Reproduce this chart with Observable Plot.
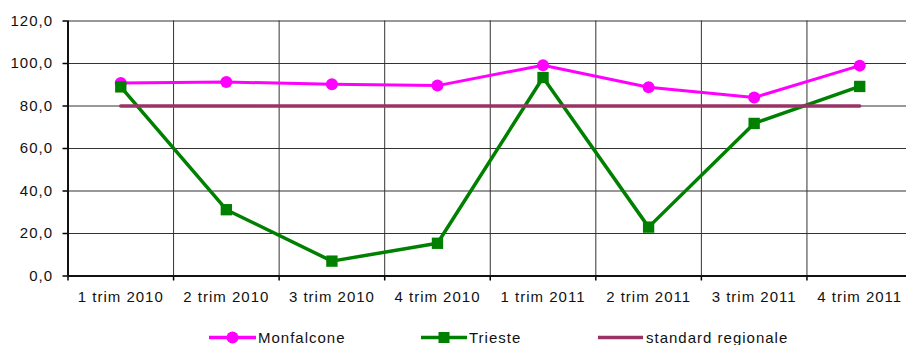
<!DOCTYPE html>
<html>
<head>
<meta charset="utf-8">
<script src="https://cdn.jsdelivr.net/npm/d3@7"></script>
<script src="https://cdn.jsdelivr.net/npm/@observablehq/plot@0.6"></script>
<style>
  html, body { margin: 0; padding: 0; background: #fff; overflow: hidden; }
  #wrap { position: relative; width: 906px; height: 345px; overflow: hidden; }
  #chart { width: 912px; }
  #chart svg { max-width: none !important; }
  #chart svg text, #legend text { letter-spacing: 1px; }
  #legend { position: absolute; left: 0; top: 310px; }
</style>
</head>
<body>
<div id="wrap">
  <div id="chart"></div>
  <div id="legend"></div>
</div>
<script>
const categories = ["1 trim 2010", "2 trim 2010", "3 trim 2010", "4 trim 2010",
                    "1 trim 2011", "2 trim 2011", "3 trim 2011", "4 trim 2011"];
const monfalcone = [90.8, 91.3, 90.2, 89.6, 99.2, 88.8, 84.0, 99.0];
const trieste    = [89.0, 31.2, 7.0, 15.4, 93.4, 23.0, 71.8, 89.2];
const standardRegionale = [80, 80, 80, 80, 80, 80, 80, 80];
const yTicks = [0, 20, 40, 60, 80, 100, 120];
const seriesNames = ["Monfalcone", "Trieste", "standard regionale"];
const seriesColors = ["#FF00FF", "#008000", "#993366"];

const boundaries = d3.range(0, categories.length + 1);
const idx = (d, i) => i + 0.5;
const fmt = d => d.toFixed(1).replace(".", ",");

const chart = Plot.plot({
  width: 912,
  height: 310,
  marginLeft: 67.5,
  marginRight: 0,
  marginTop: 20.5,
  marginBottom: 34.5,
  style: {fontFamily: "'Liberation Sans', Arial, sans-serif", fontSize: "15px", color: "#111", background: "#fff", maxWidth: "none"},
  x: {type: "linear", domain: [0, categories.length], axis: null},
  y: {domain: [0, 120], axis: null},
  marks: [
    Plot.ruleY(yTicks.filter(d => d > 0), {stroke: "#333", strokeWidth: 1}),
    Plot.ruleX(boundaries.filter(d => d > 0), {y1: 0, y2: 120, stroke: "#333", strokeWidth: 1}),
    Plot.axisY({ticks: yTicks, tickFormat: fmt, tickSize: 5, tickPadding: 10, stroke: "#000", strokeWidth: 1.5}),
    Plot.axisX({ticks: boundaries, tickFormat: () => "", tickSize: 5, stroke: "#000", strokeWidth: 1.5}),
    Plot.ruleX([0], {y1: 0, y2: 120, stroke: "#111", strokeWidth: 2}),
    Plot.ruleY([0], {stroke: "#111", strokeWidth: 2}),
    Plot.text(categories, {x: idx, y: () => 0, text: d => d, dy: 21.5, fill: "#111"}),
    Plot.line(monfalcone, {x: idx, y: d => d, stroke: seriesColors[0], strokeWidth: 3}),
    Plot.dot(monfalcone, {x: idx, y: d => d, r: 6, fill: seriesColors[0], stroke: "none"}),
    Plot.line(trieste, {x: idx, y: d => d, stroke: seriesColors[1], strokeWidth: 3.5}),
    Plot.dot(trieste, {x: idx, y: d => d, r: 6.4, symbol: "square", fill: seriesColors[1], stroke: "none"}),
    Plot.line(standardRegionale, {x: idx, y: d => d, stroke: seriesColors[2], strokeWidth: 3.5})
  ]
});
document.getElementById("chart").appendChild(chart);

// Legend
const legendItems = [
  {lx1: 209, lx2: 256, tx: 258, marker: "circle"},
  {lx1: 421, lx2: 467, tx: 469, marker: "square"},
  {lx1: 598, lx2: 643, tx: 646, marker: null}
];
const ns = "http://www.w3.org/2000/svg";
const lsvg = document.createElementNS(ns, "svg");
lsvg.setAttribute("width", 906);
lsvg.setAttribute("height", 35);
lsvg.style.fontFamily = "'Liberation Sans', Arial, sans-serif";
lsvg.style.fontSize = "15px";
seriesNames.forEach((name, i) => {
  const it = legendItems[i];
  const cy = 27.5;
  const line = document.createElementNS(ns, "line");
  line.setAttribute("x1", it.lx1); line.setAttribute("x2", it.lx2);
  line.setAttribute("y1", cy); line.setAttribute("y2", cy);
  line.setAttribute("stroke", seriesColors[i]); line.setAttribute("stroke-width", 3.5);
  lsvg.appendChild(line);
  const mx = (it.lx1 + it.lx2) / 2;
  if (it.marker === "circle") {
    const c = document.createElementNS(ns, "circle");
    c.setAttribute("cx", mx); c.setAttribute("cy", cy); c.setAttribute("r", 6);
    c.setAttribute("fill", seriesColors[i]);
    lsvg.appendChild(c);
  } else if (it.marker === "square") {
    const r = document.createElementNS(ns, "rect");
    r.setAttribute("x", mx - 5.5); r.setAttribute("y", cy - 5.5);
    r.setAttribute("width", 11); r.setAttribute("height", 11);
    r.setAttribute("fill", seriesColors[i]);
    lsvg.appendChild(r);
  }
  const t = document.createElementNS(ns, "text");
  t.setAttribute("x", it.tx); t.setAttribute("y", cy + 5.3);
  t.setAttribute("fill", "#111");
  t.textContent = name;
  lsvg.appendChild(t);
});
document.getElementById("legend").appendChild(lsvg);
</script>
</body>
</html>
